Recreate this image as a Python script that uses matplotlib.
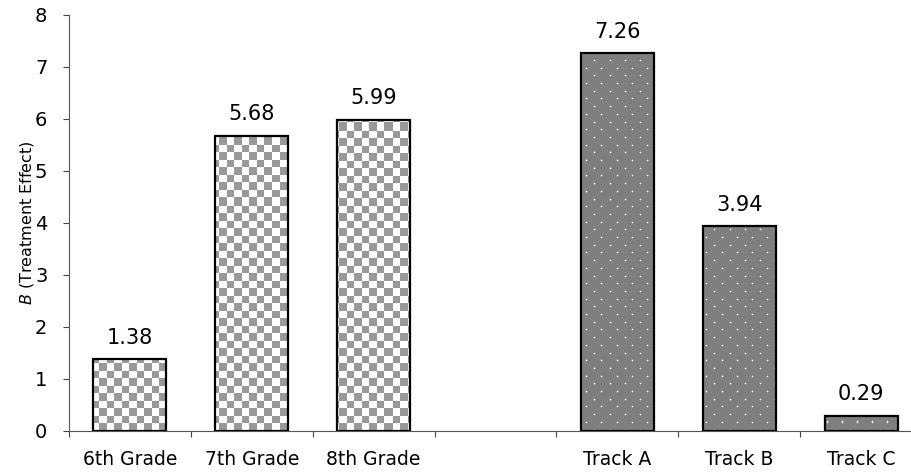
import numpy as np
import matplotlib
matplotlib.use('Agg')
import matplotlib.pyplot as plt

# data
categories = ['6th Grade', '7th Grade', '8th Grade', '', 'Track A', 'Track B', 'Track C']
values = [1.38, 5.68, 5.99, None, 7.26, 3.94, 0.29]
labels = ['1.38', '5.68', '5.99', '', '7.26', '3.94', '0.29']
fills = ['checker', 'checker', 'checker', None, 'dots', 'dots', 'dots']

plt.rcParams['font.family'] = 'DejaVu Sans'
plt.rcParams['mathtext.fontset'] = 'custom'
plt.rcParams['mathtext.it'] = 'DejaVu Sans:italic'

W, H = 911, 475
fig = plt.figure(figsize=(W / 100, H / 100), dpi=100)
ax_l, ax_b, ax_r, ax_t = 69, 44, 922, 460
ax = fig.add_axes([ax_l / W, ax_b / H, (ax_r - ax_l) / W, (ax_t - ax_b) / H])

# pixel patterns for the fills
pw, ph = ax_r - ax_l, ax_t - ax_b
yy, xx = np.mgrid[0:ph, 0:pw]
checker = np.where(((xx / 7.5).astype(int) + (yy / 7.5).astype(int)) % 2 == 0, 0.6, 1.0)
checker_img = np.dstack([checker] * 3)

dots = np.full((ph, pw), 0.5)
row = np.floor(yy / 7.7).astype(int)
on_row = row != np.floor((yy - 1) / 7.7).astype(int)
offs = np.where(row % 2 == 0, 0, 8)
mask = on_row & (((xx + offs) % 15) == 0)
glow = (np.roll(mask, 1, axis=1) | np.roll(mask, -1, axis=1) |
        np.roll(mask, 1, axis=0) | np.roll(mask, -1, axis=0)) & ~mask
dots[glow] = 0.62
dots[mask] = 0.95
dots_img = np.dstack([dots] * 3)

for i, (v, lab, f) in enumerate(zip(values, labels, fills)):
    if v is None:
        continue
    bar = ax.bar(i + 0.5, v, width=0.6, color='none', edgecolor='black', linewidth=1.6, zorder=3)[0]
    img = checker_img if f == 'checker' else dots_img
    im = ax.imshow(img, extent=(0, 7, 0, 8), origin='lower', interpolation='nearest',
                   aspect='auto', zorder=2)
    im.set_clip_path(bar)
    ax.text(i + 0.5, v + 0.22, lab, ha='center', va='bottom', fontsize=15)

ax.set_aspect('auto')
ax.set_xlim(0, 7)
ax.set_ylim(0, 8)

ax.set_xticks(np.arange(0, 8))
ax.set_xticklabels([])
ax.set_xticks(np.arange(7) + 0.5, minor=True)
ax.set_xticklabels(categories, minor=True, fontsize=13.5)
ax.tick_params(axis='x', which='minor', length=0, pad=14)
ax.tick_params(axis='x', which='major', length=4.5, direction='out', width=0.8, color='#444444')
ax.set_yticks(range(0, 9))
ax.tick_params(axis='y', length=4.5, direction='out', width=0.8, color='#444444',
               labelsize=14, pad=11)
ax.set_ylabel(r'$\it{B}$ (Treatment Effect)', fontsize=11.5)
ax.yaxis.set_label_coords(-(ax_l - 36) / pw, 0.5)

for s in ['top', 'right']:
    ax.spines[s].set_visible(False)
for s in ['left', 'bottom']:
    ax.spines[s].set_color('#555555')
    ax.spines[s].set_linewidth(0.8)

fig.savefig('out.png', dpi=100)
